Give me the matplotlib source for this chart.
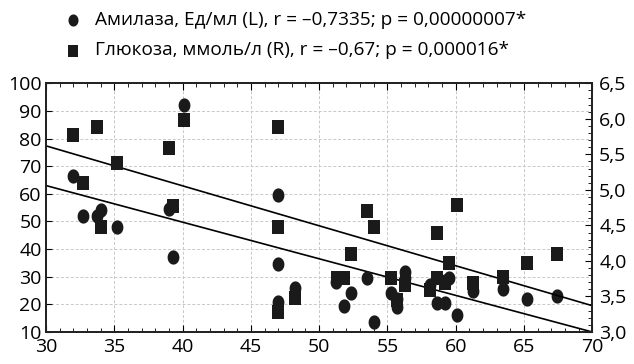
import numpy as np
import matplotlib
matplotlib.use("Agg")
import matplotlib.pyplot as plt
from matplotlib.path import Path
from matplotlib.ticker import MultipleLocator, FuncFormatter

plt.rcParams['font.family'] = ['Open Sans', 'DejaVu Sans']

# возраст, лет (ось X)
age_amy = [32.0, 32.7, 33.7, 34.0, 35.2, 39.0, 39.3, 40.1, 47.0, 47.0, 47.0, 48.2,
           51.2, 51.8, 52.3, 53.5, 54.0, 55.3, 55.7, 55.7, 56.3, 56.3, 58.1, 58.6,
           59.2, 59.2, 59.5, 60.1, 61.3, 63.5, 65.2, 67.4]
amylase = [66.5, 52.0, 52.0, 54.0, 48.0, 54.5, 37.0, 92.0, 59.5, 34.5, 21.0, 26.0,
           28.0, 19.5, 24.0, 29.5, 13.6, 24.0, 22.0, 19.0, 31.7, 29.6, 27.0, 20.5,
           20.5, 28.5, 29.5, 16.0, 25.0, 25.6, 22.0, 23.0]

age_glu = [32.0, 32.7, 33.7, 34.0, 35.2, 39.0, 39.3, 40.1, 47.0, 47.0, 47.0, 48.2,
           51.3, 51.8, 52.3, 53.5, 54.0, 55.3, 55.7, 56.3, 58.1, 58.6, 58.6, 59.2,
           59.5, 60.1, 61.3, 63.5, 65.2, 67.4]
glucose = [5.77, 5.10, 5.89, 4.48, 5.38, 5.59, 4.77, 5.99, 5.89, 4.48, 3.28, 3.48,
           3.76, 3.76, 4.10, 4.70, 4.48, 3.76, 3.45, 3.66, 3.59, 4.39, 3.76, 3.69,
           3.97, 4.79, 3.69, 3.77, 3.97, 4.10]

# линейная регрессия: (наклон, свободный член)
fit_amy = (-1.325, 102.75)
fit_glu = (-0.05625, 7.3075)

label_amy = 'Амилаза, Ед/мл (L), r = –0,7335; p = 0,00000007*'
label_glu = 'Глюкоза, ммоль/л (R), r = –0,67; p = 0,000016*'

# слегка вытянутые по вертикали маркеры
t = np.linspace(0, 2 * np.pi, 40)
ellipse = Path(np.column_stack([0.83 * np.cos(t), np.sin(t)]), closed=True)
rect = Path([(-0.77, -1), (0.77, -1), (0.77, 1), (-0.77, 1), (-0.77, -1)], closed=True)

fig = plt.figure(figsize=(6.34, 3.64), dpi=100)
ax = fig.add_axes([0.0726, 0.088, 0.8615, 0.683])
ax2 = ax.twinx()

col = '#1a1a1a'
h1 = ax.scatter(age_amy, amylase, marker=ellipse, s=105, color=col, linewidths=0, zorder=3)
h2 = ax2.scatter(age_glu, glucose, marker=rect, s=115, color=col, linewidths=0, zorder=3)

xs = np.array([30, 70])
ax.plot(xs, fit_amy[0] * xs + fit_amy[1], color='black', lw=1.2, zorder=2)
ax2.plot(xs, fit_glu[0] * xs + fit_glu[1], color='black', lw=1.2, zorder=2)

ax.set_xlim(30, 70)
ax.set_ylim(10, 100)
ax2.set_ylim(3.0, 6.5)

ax.xaxis.set_major_locator(MultipleLocator(5))
ax.xaxis.set_minor_locator(MultipleLocator(1))
ax.yaxis.set_major_locator(MultipleLocator(10))
ax2.yaxis.set_major_locator(MultipleLocator(0.5))
ax2.yaxis.set_minor_locator(MultipleLocator(0.1))
ax2.yaxis.set_major_formatter(FuncFormatter(lambda v, p: f'{v:.1f}'.replace('.', ',')))

ax.grid(True, which='major', color='#c8c8c8', ls=(0, (3, 2)), lw=0.7)
ax.set_axisbelow(True)

ax.tick_params(axis='x', which='both', direction='in', top=True, labelsize=14, pad=4)
ax.tick_params(axis='x', which='major', length=5)
ax.tick_params(axis='x', which='minor', length=3)
ax.tick_params(axis='y', which='major', direction='in', length=4, labelsize=14, pad=3)
ax2.tick_params(axis='y', which='major', direction='in', length=5, labelsize=14, pad=5)
ax2.tick_params(axis='y', which='minor', direction='in', length=3)

for a in (ax, ax2):
    for s in a.spines.values():
        s.set_linewidth(1.3)
        s.set_color('#222222')

fig.legend([h1, h2], [label_amy, label_glu], loc='upper left',
           bbox_to_anchor=(0.0726, 1.017), frameon=False, fontsize=13.7,
           handlelength=1.0, handletextpad=0.68, labelspacing=0.66,
           markerscale=0.85)

fig.savefig('out.png', dpi=100)
